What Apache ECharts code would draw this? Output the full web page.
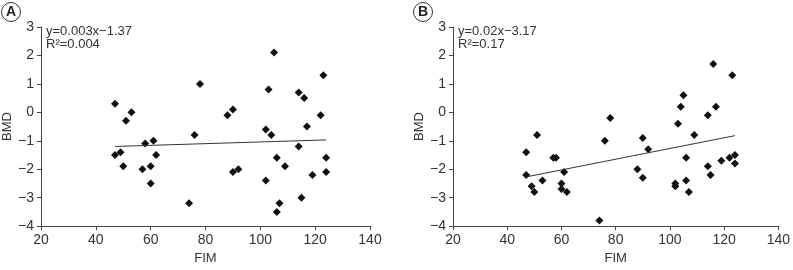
<!DOCTYPE html>
<html><head><meta charset="utf-8">
<script src="https://cdn.jsdelivr.net/npm/echarts@6/dist/echarts.min.js"></script>
<style>html,body{margin:0;padding:0;background:#fff}#c{width:793px;height:270px}</style>
</head><body><div id="c"></div>
<script>
// Panel A: FIM vs BMD
const fimA = [47,51,53,78,76,47,49,50,58,61,62,57,60,60,74,105,123,103,114,116,90,88,122,117,102,104,114,106,124,109,90,92,124,119,102,115,107,106];
const bmdA = [0.3,-0.3,0.0,1.0,-0.8,-1.5,-1.4,-1.9,-1.1,-1.0,-1.5,-2.0,-1.9,-2.5,-3.2,2.1,1.3,0.8,0.7,0.5,0.1,-0.1,-0.1,-0.5,-0.6,-0.8,-1.2,-1.6,-1.6,-1.9,-2.1,-2.0,-2.1,-2.2,-2.4,-3.0,-3.2,-3.5];
// Panel B
const fimB = [51,47,47,49,50,53,57,58,61,60,60,62,74,116,123,105,104,117,78,114,103,109,90,76,92,106,88,90,102,102,106,107,114,115,119,122,124,124];
const bmdB = [-0.8,-1.4,-2.2,-2.6,-2.8,-2.4,-1.6,-1.6,-2.1,-2.5,-2.7,-2.8,-3.8,1.7,1.3,0.6,0.2,0.2,-0.2,-0.1,-0.4,-0.8,-0.9,-1.0,-1.3,-1.6,-2.0,-2.3,-2.5,-2.6,-2.4,-2.8,-1.9,-2.2,-1.7,-1.6,-1.5,-1.8];
// Regression lines (endpoints)
const fitA = [[47,-1.2],[124,-0.97]];
const fitB = [[47.5,-2.26],[124,-0.82]];
const eqA = ['y=0.003x\u22121.37', 'R\u00b2=0.004'];
const eqB = ['y=0.02x\u22123.17', 'R\u00b2=0.17'];
const xTicks = {min:20, max:140, interval:20};
const yTicks = {min:-4, max:3, interval:1};

const FONT = '"Liberation Sans", Arial, sans-serif';
const TXT = '#333';
const fmt = v => String(v).replace('-', '\u2212');

function xAxis(i){return {gridIndex:i,type:'value',min:xTicks.min,max:xTicks.max,interval:xTicks.interval,
  name:'FIM',nameLocation:'middle',nameGap:25,nameTextStyle:{fontFamily:FONT,fontSize:13,color:TXT},
  axisLine:{onZero:false,lineStyle:{color:'#444',width:1}},axisTick:{length:4,lineStyle:{color:'#444'}},
  axisLabel:{margin:7,fontFamily:FONT,fontSize:14,color:TXT,formatter:fmt},splitLine:{show:false}};}
function yAxis(i){return {gridIndex:i,type:'value',min:yTicks.min,max:yTicks.max,interval:yTicks.interval,
  name:'BMD',nameLocation:'middle',nameGap:24,nameRotate:90,nameTextStyle:{fontFamily:FONT,fontSize:13,color:TXT},
  axisLine:{show:true,onZero:false,lineStyle:{color:'#444',width:1}},axisTick:{show:true,length:4,lineStyle:{color:'#444'}},
  axisLabel:{margin:7,fontFamily:FONT,fontSize:14,color:TXT,formatter:fmt},splitLine:{show:false}};}

const zip = (a,b)=>a.map((v,i)=>[v,b[i]]);
const chart = echarts.init(document.getElementById('c'));
chart.setOption({
  animation:false,
  grid:[{left:41,top:27,width:329,height:205},{left:453,top:27,width:329,height:205}],
  xAxis:[xAxis(0),xAxis(1)],
  yAxis:[yAxis(0),yAxis(1)],
  series:[
    {type:'scatter',xAxisIndex:0,yAxisIndex:0,data:zip(fimA,bmdA),symbol:'diamond',symbolSize:8,itemStyle:{color:'#111',opacity:1}},
    {type:'line',xAxisIndex:0,yAxisIndex:0,data:fitA,symbol:'none',lineStyle:{color:'#333',width:1}},
    {type:'scatter',xAxisIndex:1,yAxisIndex:1,data:zip(fimB,bmdB),symbol:'diamond',symbolSize:8,itemStyle:{color:'#111',opacity:1}},
    {type:'line',xAxisIndex:1,yAxisIndex:1,data:fitB,symbol:'none',lineStyle:{color:'#333',width:1}}
  ],
  graphic:[
    {type:'text',left:46,top:25,style:{text:eqA.join('\n'),font:'13px '+FONT,fill:TXT,lineHeight:13}},
    {type:'text',left:458,top:25,style:{text:eqB.join('\n'),font:'13px '+FONT,fill:TXT,lineHeight:13}},
    {type:'circle',shape:{cx:11,cy:12,r:9.5},style:{fill:'#fff',stroke:'#333',lineWidth:1}},
    {type:'text',x:11,y:12.5,style:{text:'A',font:'bold 14px '+FONT,fill:'#222',align:'center',verticalAlign:'middle'}},
    {type:'circle',shape:{cx:423,cy:12,r:9.5},style:{fill:'#fff',stroke:'#333',lineWidth:1}},
    {type:'text',x:423,y:12.5,style:{text:'B',font:'bold 14px '+FONT,fill:'#222',align:'center',verticalAlign:'middle'}}
  ]
});
</script></body></html>
